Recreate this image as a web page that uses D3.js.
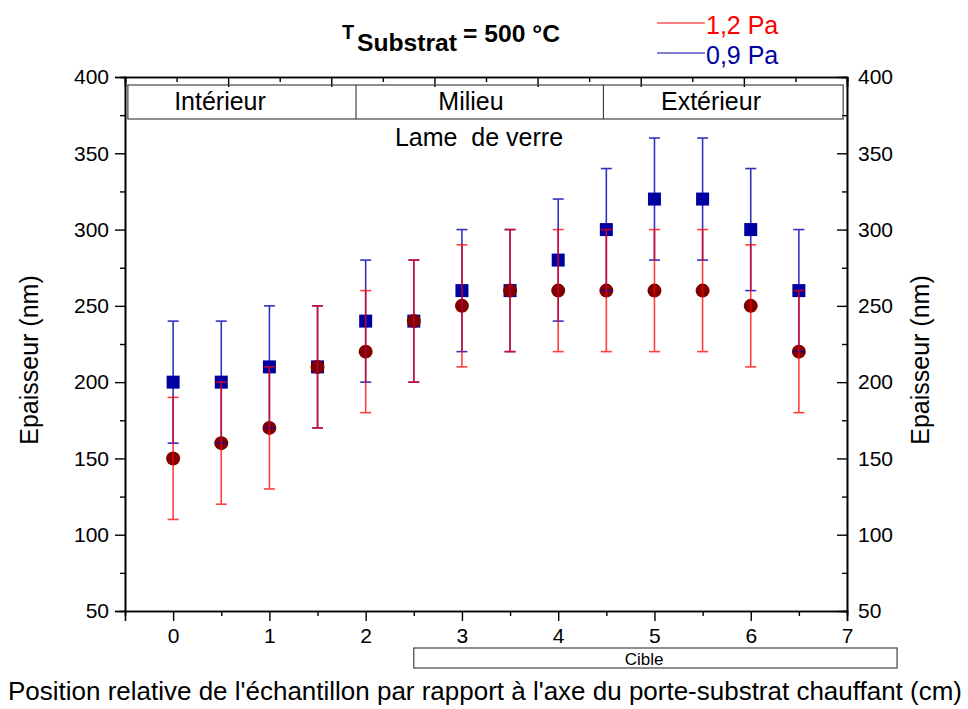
<!DOCTYPE html>
<html>
<head>
<meta charset="utf-8">
<script src="https://cdn.jsdelivr.net/npm/d3@7/dist/d3.min.js"></script>
<style>
  html, body { margin: 0; padding: 0; background: #fff; }
  svg { display: block; font-family: "Liberation Sans", Arial, sans-serif; }
</style>
</head>
<body>
<svg id="chart" width="968" height="709"></svg>
<script>
// ---- data ----
const positions = [0, 0.5, 1, 1.5, 2, 2.5, 3, 3.5, 4, 4.5, 5, 5.5, 6, 6.5];
const thick12 = [150, 160, 170, 210, 220, 240, 250, 260, 260, 260, 260, 260, 250, 220]; // 1,2 Pa
const err12   = [40, 40, 40, 40, 40, 40, 40, 40, 40, 40, 40, 40, 40, 40];
const thick09 = [200, 200, 210, 210, 240, 240, 260, 260, 280, 300, 320, 320, 300, 260]; // 0,9 Pa
const err09   = [40, 40, 40, 40, 40, 40, 40, 40, 40, 40, 40, 40, 40, 40];
const xTicks = [0, 1, 2, 3, 4, 5, 6, 7];
const yTicks = [50, 100, 150, 200, 250, 300, 350, 400];
const seriesNames = ["1,2 Pa", "0,9 Pa"];
const zoneNames = ["Intérieur", "Milieu", "Extérieur"];
const zoneBounds = [-0.47, 1.9, 4.47, 6.96];

const svg = d3.select("#chart");
const L = 125, R = 847, T = 77, B = 611;
const x = d3.scaleLinear().domain([-0.5, 7]).range([L, R]);
const y = d3.scaleLinear().domain([50, 400]).range([B, T]);
const xTop = d3.scaleLinear().domain([0, 7]).range([L, R]);

const red = "#ff0000", blue = "#0000b0", maroon = "#800000", navy = "#0000a0";

// ---- axes ----
function styleAxis(g) {
  g.select(".domain").attr("stroke", "#000").attr("stroke-width", 1.6);
  g.selectAll(".tick line").attr("stroke", "#000").attr("stroke-width", 1.4);
  g.selectAll(".tick text").attr("fill", "#000").style("font-size", "21px")
    .style("font-family", "'Liberation Sans', Arial, sans-serif");
}
const yMinor = d3.range(75, 400, 50);
const xMinor = d3.range(-0.5, 7, 1).filter(v => v > -0.5);

// left
svg.append("g").attr("transform", `translate(${L},0)`)
  .call(d3.axisLeft(y).tickValues(yMinor).tickSize(5).tickFormat(""))
  .call(styleAxis);
svg.append("g").attr("transform", `translate(${L},0)`)
  .call(d3.axisLeft(y).tickValues(yTicks).tickSize(10).tickPadding(6).tickFormat(d3.format("d")))
  .call(styleAxis);
// right
svg.append("g").attr("transform", `translate(${R},0)`)
  .call(d3.axisLeft(y).tickValues(yMinor).tickSize(5).tickFormat(""))
  .call(styleAxis);
svg.append("g").attr("transform", `translate(${R},0)`)
  .call(d3.axisRight(y).tickValues(yTicks).tickSizeInner(-10).tickSizeOuter(0).tickPadding(11).tickFormat(d3.format("d")))
  .call(styleAxis);
// bottom
svg.append("g").attr("transform", `translate(0,${B})`)
  .call(d3.axisBottom(x).tickValues(xMinor).tickSize(5).tickFormat(""))
  .call(styleAxis);
svg.append("g").attr("transform", `translate(0,${B})`)
  .call(d3.axisBottom(x).tickValues(xTicks).tickSize(10).tickPadding(7).tickFormat(d3.format("d")))
  .call(styleAxis);
// top (inward, no labels)
svg.append("g").attr("transform", `translate(0,${T})`)
  .call(d3.axisBottom(xTop).tickValues(d3.range(0.5, 7, 1)).tickSize(5).tickFormat(""))
  .call(styleAxis);
svg.append("g").attr("transform", `translate(0,${T})`)
  .call(d3.axisBottom(xTop).tickValues(d3.range(1, 8, 1)).tickSize(10).tickFormat(""))
  .call(styleAxis);

// ---- zone box (top) ----
const boxTop = 85, boxBot = 119;
const zoneG = svg.append("g");
zoneG.append("rect").attr("x", x(zoneBounds[0])).attr("y", boxTop)
  .attr("width", x(zoneBounds[3]) - x(zoneBounds[0])).attr("height", boxBot - boxTop)
  .attr("fill", "none").attr("stroke", "#444").attr("stroke-width", 1.2);
zoneBounds.slice(1, 3).forEach(b => {
  zoneG.append("line").attr("x1", x(b)).attr("x2", x(b)).attr("y1", boxTop).attr("y2", boxBot)
    .attr("stroke", "#444").attr("stroke-width", 1.2);
});
const zoneCenters = [220, 471, 711];
zoneNames.forEach((n, i) => {
  zoneG.append("text").attr("x", zoneCenters[i]).attr("y", 110).attr("text-anchor", "middle")
    .style("font-size", "25px").attr("fill", "#000").text(n);
});
svg.append("text").attr("x", 479).attr("y", 146).attr("text-anchor", "middle")
  .style("font-size", "25px").attr("fill", "#000").text("Lame\u00a0\u00a0de verre");

// ---- Cible box ----
svg.append("rect").attr("x", x(2.5)).attr("y", 648).attr("width", x(7.52) - x(2.5)).attr("height", 20)
  .attr("fill", "none").attr("stroke", "#444").attr("stroke-width", 1.2);
svg.append("text").attr("x", 644).attr("y", 665).attr("text-anchor", "middle")
  .style("font-size", "17px").attr("fill", "#000").text("Cible");

// ---- markers ----
const pts09 = positions.map((p, i) => ({ x: p, v: thick09[i], e: err09[i] }));
const pts12 = positions.map((p, i) => ({ x: p, v: thick12[i], e: err12[i] }));

svg.append("g").selectAll("rect").data(pts09).join("rect")
  .attr("x", d => x(d.x) - 6.5).attr("y", d => y(d.v) - 6.5)
  .attr("width", 13).attr("height", 13).attr("fill", navy);
svg.append("g").selectAll("circle").data(pts12).join("circle")
  .attr("cx", d => x(d.x)).attr("cy", d => y(d.v)).attr("r", 7).attr("fill", maroon);

// ---- error bars ----
function errBars(data, color, op) {
  const g = svg.append("g").attr("stroke", color).attr("stroke-width", 1.6).attr("opacity", op);
  g.selectAll("line.v").data(data).join("line").attr("class", "v")
    .attr("x1", d => x(d.x)).attr("x2", d => x(d.x))
    .attr("y1", d => y(d.v + d.e)).attr("y2", d => y(d.v - d.e));
  g.selectAll("line.t").data(data).join("line").attr("class", "t")
    .attr("x1", d => x(d.x) - 5.5).attr("x2", d => x(d.x) + 5.5)
    .attr("y1", d => y(d.v + d.e)).attr("y2", d => y(d.v + d.e));
  g.selectAll("line.b").data(data).join("line").attr("class", "b")
    .attr("x1", d => x(d.x) - 5.5).attr("x2", d => x(d.x) + 5.5)
    .attr("y1", d => y(d.v - d.e)).attr("y2", d => y(d.v - d.e));
}
errBars(pts09, blue, 0.8);
errBars(pts12, red, 0.75);

// ---- title ----
const title = svg.append("g").attr("fill", "#000").style("font-weight", "bold");
title.append("text").attr("x", 342).attr("y", 39).style("font-size", "20px").text("T");
title.append("text").attr("x", 357).attr("y", 51).style("font-size", "23px")
  .attr("textLength", 100).attr("lengthAdjust", "spacingAndGlyphs").text("Substrat");
title.append("text").attr("x", 463).attr("y", 42).style("font-size", "23px")
  .attr("textLength", 97).attr("lengthAdjust", "spacingAndGlyphs").text("= 500 °C");

// ---- legend ----
const legColors = [red, navy];
const legY = [23, 53];
seriesNames.forEach((n, i) => {
  svg.append("line").attr("x1", 657).attr("x2", 705).attr("y1", legY[i]).attr("y2", legY[i])
    .attr("stroke", legColors[i]).attr("stroke-width", 1);
  svg.append("text").attr("x", 706).attr("y", legY[i] + 11).style("font-size", "25px")
    .attr("fill", legColors[i]).text(n);
});

// ---- axis titles ----
svg.append("text").attr("transform", "translate(38,360) rotate(-90)").attr("text-anchor", "middle")
  .style("font-size", "25px").attr("fill", "#000").text("Epaisseur (nm)");
svg.append("text").attr("transform", "translate(929,360) rotate(-90)").attr("text-anchor", "middle")
  .style("font-size", "25px").attr("fill", "#000").text("Epaisseur (nm)");
svg.append("text").attr("x", 485).attr("y", 700).attr("text-anchor", "middle")
  .style("font-size", "25px").attr("fill", "#000")
  .attr("textLength", 954).attr("lengthAdjust", "spacingAndGlyphs")
  .text("Position relative de l'échantillon par rapport à l'axe du porte-substrat chauffant (cm)");
</script>
</body>
</html>
